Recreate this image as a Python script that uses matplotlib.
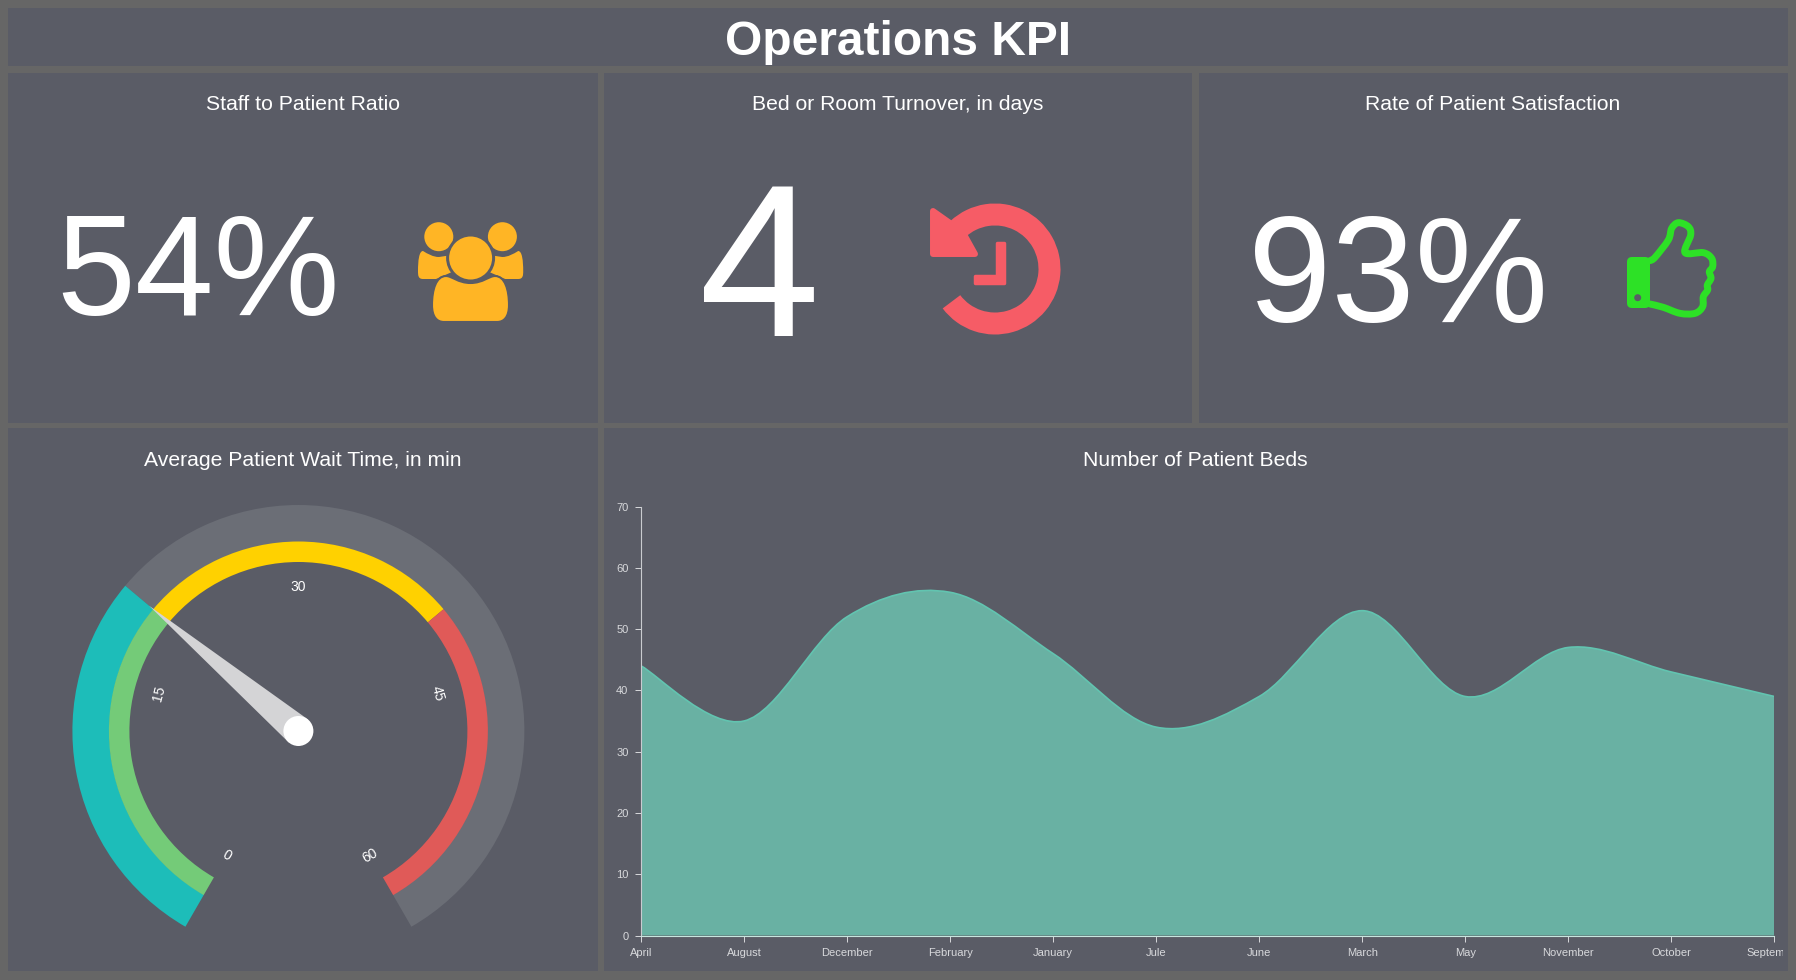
import numpy as np
import matplotlib
matplotlib.use("Agg")
import matplotlib.pyplot as plt
from matplotlib.patches import Rectangle, Wedge, Circle, Polygon, PathPatch, FancyBboxPatch
from matplotlib.path import Path
from matplotlib.transforms import Bbox, TransformedBbox

plt.rcParams['font.family'] = ['Liberation Sans', 'DejaVu Sans']

W, H = 1796, 980

# KPI cards
kpi_titles = ["Staff to Patient Ratio", "Bed or Room Turnover, in days", "Rate of Patient Satisfaction"]
kpi_values = ["54%", "4", "93%"]

# gauge
gauge_ticks = [0, 15, 30, 45, 60]
gauge_stops = [0, 20, 40, 60]
gauge_colors = ["#74cb78", "#ffd100", "#e05a58"]
gauge_value = 20
gauge_max = 60

# area chart
months = ["April", "August", "December", "February", "January", "Jule", "June",
          "March", "May", "November", "October", "September"]
beds = [44, 35, 52, 56, 46, 34, 39, 53, 39, 47, 43, 39]
bed_ticks = [0, 10, 20, 30, 40, 50, 60, 70]

PAGE = "#666666"
PANEL = "#5a5c66"
TRACK = "#6b6e76"
TEAL = "#1dbdb9"


def Y(y):
    # pixel rows count from the top, the axes from the bottom
    return H - y


def val_to_angle(v):
    return 240 - v / gauge_max * 300


def smooth(pts):
    # bezier segments through the points, catmull-rom style
    curve = [pts[0]]
    for i in range(len(pts) - 1):
        p0 = pts[max(i - 1, 0)]
        p1 = pts[i]
        p2 = pts[i + 1]
        p3 = pts[min(i + 2, len(pts) - 1)]
        curve.append((p1[0] + (p2[0] - p0[0]) / 6, p1[1] + (p2[1] - p0[1]) / 6))
        curve.append((p2[0] - (p3[0] - p1[0]) / 6, p2[1] - (p3[1] - p1[1]) / 6))
        curve.append(p2)
    return curve, [Path.MOVETO] + [Path.CURVE4] * (len(curve) - 1)


def icon_path(cmds):
    # cmds: list of point groups, 1 point = line, 3 points = curve
    verts = []
    codes = []
    for i, c in enumerate(cmds):
        verts += [(x, Y(y)) for x, y in c]
        if i == 0:
            codes.append(Path.MOVETO)
        elif len(c) == 1:
            codes.append(Path.LINETO)
        else:
            codes += [Path.CURVE4] * 3
    return Path(verts, codes)


fig = plt.figure(figsize=(W / 100, H / 100), dpi=100, facecolor=PAGE)
bg = fig.add_axes([0, 0, 1, 1])
bg.set_xlim(0, W)
bg.set_ylim(0, H)
bg.axis("off")

panels = [(8, 8, 1788, 66), (8, 73, 598, 423), (604, 73, 1192, 423), (1199, 73, 1788, 423),
          (8, 428, 598, 971), (604, 428, 1788, 971)]
for x0, y0, x1, y1 in panels:
    bg.add_patch(Rectangle((x0, Y(y1)), x1 - x0, y1 - y0, fc=PANEL, ec="none"))

bg.text(898, Y(42.5), "Operations KPI", color="white", fontsize=34.5, fontweight="bold", ha="center", va="center")

for cx, t in zip([302.5, 898, 1493], kpi_titles):
    bg.text(cx, Y(105), t, color="white", fontsize=15.2, ha="center", va="center")
bg.text(302.5, Y(461), "Average Patient Wait Time, in min", color="white", fontsize=15.2, ha="center", va="center")
bg.text(1195, Y(461), "Number of Patient Beds", color="white", fontsize=15.2, ha="center", va="center")

bg.text(198, Y(315), kpi_values[0], color="white", fontsize=102, ha="center", va="baseline")
bg.text(760, Y(336), kpi_values[1], color="white", fontsize=157, ha="center", va="baseline")
bg.text(1398, Y(322), kpi_values[2], color="white", fontsize=108, ha="center", va="baseline")

# people icon
ORANGE = "#ffb525"
mx = 470.6
for sx in (1, -1):
    d = lambda x: mx + sx * (x - mx)
    side = [[(d(423), 279)],
            [(d(418), 279), (d(418), 275), (d(418), 271)],
            [(d(418), 261), (d(419), 251), (d(423), 251)],
            [(d(428), 254), (d(433), 257), (d(439), 257)],
            [(d(452), 255)], [(d(452), 272)], [(d(436), 279)], [(d(423), 279)]]
    bg.add_patch(PathPatch(icon_path(side), fc=ORANGE, ec="none"))
    bg.add_patch(Circle((d(438.8), Y(236.7)), 14.5, fc=ORANGE, ec="none"))
bg.add_patch(Circle((mx, Y(258)), 24.5, fc=PANEL, ec="none"))
body = [[(432, 305)],
        [(432, 290), (436, 276), (446, 276)],
        [(452, 276), (458, 283), (470.5, 283)],
        [(483, 283), (489, 276), (495, 276)],
        [(505, 276), (509, 290), (509, 305)],
        [(509, 317), (504, 322), (497, 322)],
        [(444, 322)],
        [(437, 322), (432, 317), (432, 305)]]
bg.add_patch(PathPatch(icon_path(body), fc=ORANGE, ec=PANEL, lw=1.5))
bg.add_patch(Circle((mx, Y(258)), 21.5, fc=ORANGE, ec="none"))

# history icon
CORAL = "#f65c66"
bg.add_patch(Wedge((995, Y(269)), 65.5, 217, 133 + 360, width=22, fc=CORAL, ec="none"))
bg.add_patch(Polygon([(933, Y(211)), (933, Y(254)), (975, Y(254)), (965, Y(236)), (950, Y(223))],
                     fc=CORAL, ec=CORAL, lw=4.3, joinstyle="round"))
bg.add_patch(Polygon([(997, Y(243)), (1004, Y(243)), (1004, Y(283)), (975, Y(283)), (975, Y(276)), (997, Y(276))],
                     fc=CORAL, ec=CORAL, lw=2.5, joinstyle="round"))

# thumb icon
LIME = "#2de126"
bg.add_patch(FancyBboxPatch((1627, Y(308)), 23, 51, boxstyle="round,pad=0,rounding_size=5", fc=LIME, ec="none"))
bg.add_patch(Circle((1637.7, Y(297.7)), 3.5, fc=PANEL, ec="none"))
thumb = [(150, 182), (165, 172), (205, 120), (215, 85), (235, 68), (265, 80), (272, 105), (255, 158),
         (310, 158), (335, 175), (338, 200), (328, 215), (333, 235), (322, 255), (323, 270), (310, 290),
         (308, 320), (285, 340), (240, 340), (190, 322), (150, 312)]
thumb = [(1600 + a / 3, Y(200 + b / 3)) for a, b in thumb]
t_curve, t_codes = smooth(thumb)
bg.add_patch(PathPatch(Path(t_curve, t_codes), fc="none", ec=LIME, lw=5, joinstyle="round", capstyle="round"))

# gauge
gc = (298.4, Y(731))
end_angle = val_to_angle(gauge_value)
bg.add_patch(Wedge(gc, 226, val_to_angle(gauge_max), end_angle, width=37, fc=TRACK, ec="none"))
bg.add_patch(Wedge(gc, 226, end_angle, val_to_angle(0), width=37, fc=TEAL, ec="none"))
for i, c in enumerate(gauge_colors):
    bg.add_patch(Wedge(gc, 189.5, val_to_angle(gauge_stops[i + 1]), val_to_angle(gauge_stops[i]), width=20.5, fc=c, ec="none"))
for t in gauge_ticks:
    a = val_to_angle(t)
    r = 144
    rot = a - 90
    if rot > 90:
        rot -= 180
    if rot < -90:
        rot += 180
    bg.text(gc[0] + r * np.cos(np.radians(a)), gc[1] + r * np.sin(np.radians(a)), str(t), color="white",
            fontsize=10, rotation=rot, rotation_mode="anchor", ha="center", va="center")

a = np.radians(end_angle)
tip = (gc[0] + 195 * np.cos(a), gc[1] + 195 * np.sin(a))
n = (-np.sin(a), np.cos(a))
bg.add_patch(Polygon([tip, (gc[0] + 15 * n[0], gc[1] + 15 * n[1]), (gc[0] - 15 * n[0], gc[1] - 15 * n[1])],
                     fc="#d4d4d6", ec="none"))
bg.add_patch(Circle(gc, 15, fc="white", ec="none"))

# area chart, axes box matches the plot area in pixels
ax = fig.add_axes([641 / W, 1 - 935.5 / H, (1774.3 - 641) / W, (935.5 - 506.5) / H])
ax.patch.set_alpha(0)
xs = np.arange(len(months))
ax.set_xlim(0, len(months) - 1)
ax.set_ylim(0, 70)

curve, line_codes = smooth(list(zip(xs, beds)))
fill_path = Path(curve + [(xs[-1], 0), (xs[0], 0), curve[0]], line_codes + [Path.LINETO, Path.LINETO, Path.CLOSEPOLY])
ax.add_patch(PathPatch(fill_path, fc="#69b1a3", ec="none"))
ax.add_patch(PathPatch(Path(curve, line_codes), fc="none", ec="#62c4b0", lw=1.2))

for s in ["top", "right"]:
    ax.spines[s].set_visible(False)
ax.spines["left"].set_color("#c9cbcf")
ax.spines["bottom"].set_color("#c8e6df")
ax.spines["left"].set_linewidth(0.8)
ax.spines["bottom"].set_linewidth(0.8)
ax.set_xticks(xs)
ax.set_xticklabels(months)
ax.set_yticks(bed_ticks)
ax.tick_params(colors="#d8d9dc", labelsize=8, length=4, width=0.7)
ax.tick_params(axis="x", pad=5)
ax.tick_params(axis="y", pad=5)

# the last label runs off the card in the reference
clip = TransformedBbox(Bbox([[0, 0], [1783, H]]), bg.transData)
for lab in ax.get_xticklabels():
    lab.set_clip_box(clip)
    lab.set_clip_on(True)

fig.savefig("out.png", dpi=100, facecolor=PAGE)
